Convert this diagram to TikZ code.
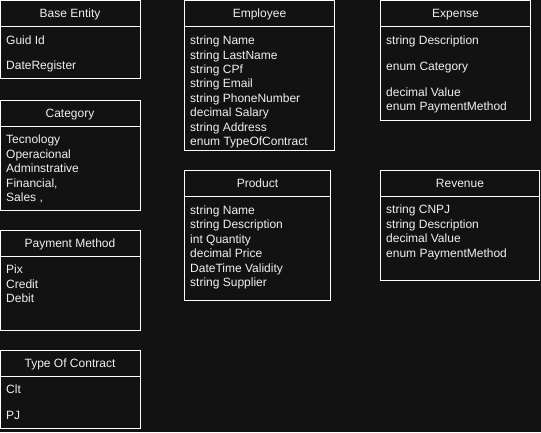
\documentclass[tikz,border=0pt]{standalone}
\usepackage{fontspec}
\setmainfont{Liberation Sans}
\definecolor{bgc}{HTML}{121212}
\definecolor{txt}{HTML}{F0F0F0}
\tikzset{
  boxline/.style={draw=white, line width=1pt, fill=bgc},
  sepline/.style={draw=white, line width=1pt},
  title/.style={text=txt, inner sep=0pt, anchor=base, font=\fontsize{12}{14.4}\selectfont},
  attr/.style={text=txt, inner sep=0pt, anchor=base west, font=\fontsize{12}{14.4}\selectfont}
}
\newcommand{\umlframe}[6]{% name, x0, y0, x1, y1, header y
  \draw[boxline] (#2,#3) rectangle (#4,#5);
  \draw[sepline] (#2,#6) -- (#4,#6);
  \coordinate (#1) at (#2,#3);
}
\begin{document}
\begin{tikzpicture}[x=1pt,y=-1pt]
\fill[bgc] (0,0) rectangle (541,432);
\useasboundingbox (0,0) rectangle (541,432);

% Base Entity
\umlframe{be}{0.5}{0.5}{140.5}{78.5}{26.5}
\node[title] (beT) at (70,17.5) {Base Entity};
\node[attr] (be1) at (6,44.5) {Guid Id};
\node[attr] (be2) at (6,69.5) {DateRegister};

% Category
\umlframe{ca}{0.5}{100.5}{140.5}{210.5}{126.5}
\node[title] (caT) at (70,117.5) {Category};
\node[attr] (ca1) at (6,143.5) {Tecnology};
\node[attr] (ca2) at (6,158) {Operacional};
\node[attr] (ca3) at (6,172.5) {Adminstrative};
\node[attr] (ca4) at (6,187) {Financial,};
\node[attr] (ca5) at (6,201.5) {Sales ,};

% Payment Method
\umlframe{pm}{0.5}{230.5}{140.5}{330.5}{256.5}
\node[title] (pmT) at (70,247.5) {Payment Method};
\node[attr] (pm1) at (6,273.5) {Pix};
\node[attr] (pm2) at (6,288) {Credit};
\node[attr] (pm3) at (6,302.5) {Debit};

% Type Of Contract
\umlframe{tc}{0.5}{350.5}{140.5}{428.5}{376.5}
\node[title] (tcT) at (70,367.5) {Type Of Contract};
\node[attr] (tc1) at (6,393.5) {Clt};
\node[attr] (tc2) at (6,419.5) {PJ};

% Employee
\umlframe{em}{184.5}{0.5}{334.5}{150.5}{26.5}
\node[title] (emT) at (259.5,17.5) {Employee};
\node[attr] (em1) at (190,44.5) {string Name};
\node[attr] (em2) at (190,59) {string LastName};
\node[attr] (em3) at (190,73.4) {string CPf};
\node[attr] (em4) at (190,87.8) {string Email};
\node[attr] (em5) at (190,102.2) {string PhoneNumber};
\node[attr] (em6) at (190,116.6) {decimal Salary};
\node[attr] (em7) at (190,131) {string Address};
\node[attr] (em8) at (190,145.4) {enum TypeOfContract};

% Expense
\umlframe{ex}{380.5}{0.5}{530.5}{120.5}{26.5}
\node[title] (exT) at (455.5,17.5) {Expense};
\node[attr] (ex1) at (386,44.5) {string Description};
\node[attr] (ex2) at (386,70) {enum Category};
\node[attr] (ex3) at (386,96) {decimal Value};
\node[attr] (ex4) at (386,110.4) {enum PaymentMethod};

% Product
\umlframe{pr}{184.5}{170.5}{330.5}{300.5}{196.5}
\node[title] (prT) at (257.5,187) {Product};
\node[attr] (pr1) at (190,214) {string Name};
\node[attr] (pr2) at (190,228.5) {string Description};
\node[attr] (pr3) at (190,243) {int Quantity};
\node[attr] (pr4) at (190,257.5) {decimal Price};
\node[attr] (pr5) at (190,272) {DateTime Validity};
\node[attr] (pr6) at (190,286.5) {string Supplier};

% Revenue
\umlframe{re}{380.5}{170.5}{539.5}{280.5}{196.5}
\node[title] (reT) at (460,187) {Revenue};
\node[attr] (re1) at (386,213.5) {string CNPJ};
\node[attr] (re2) at (386,228) {string Description};
\node[attr] (re3) at (386,242.5) {decimal Value};
\node[attr] (re4) at (386,257) {enum PaymentMethod};
\end{tikzpicture}
\end{document}
